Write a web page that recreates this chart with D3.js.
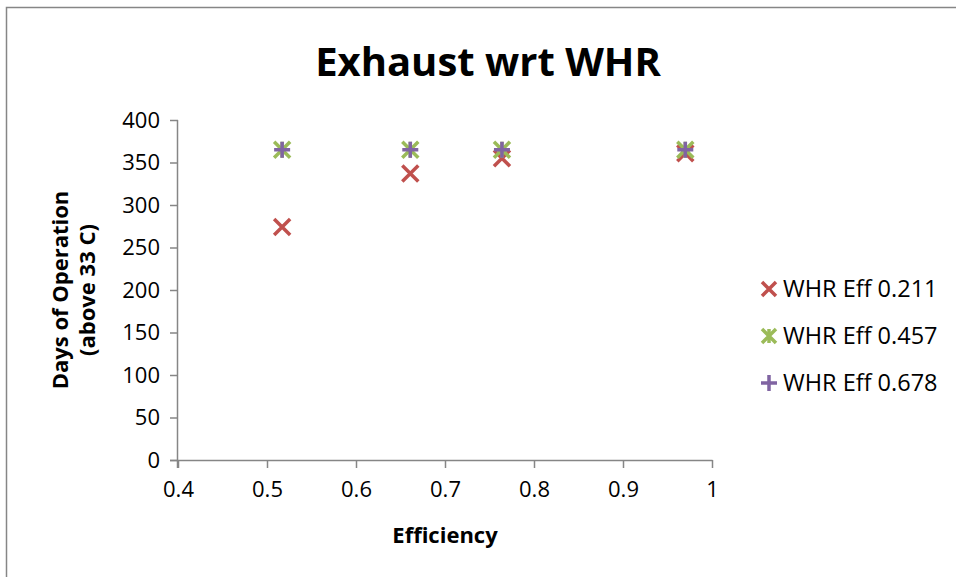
<!DOCTYPE html>
<html>
<head>
<meta charset="utf-8">
<script src="https://d3js.org/d3.v7.min.js"></script>
<style>
  body { margin: 0; background: #fff; }
  text { font-family: "Open Sans", "Liberation Sans", sans-serif; fill: #000; }
</style>
</head>
<body>
<svg id="svg" width="956" height="577"></svg>
<script>
var efficiency = [0.517, 0.661, 0.764, 0.970];
var seriesNames = ["WHR Eff 0.211", "WHR Eff 0.457", "WHR Eff 0.678"];
var whr211 = [274, 337, 355, 361];
var whr457 = [365, 365, 365, 365];
var whr678 = [365, 365, 365, 365];
var xTicks = [0.4, 0.5, 0.6, 0.7, 0.8, 0.9, 1];
var yTicks = [0, 50, 100, 150, 200, 250, 300, 350, 400];

var svg = d3.select("#svg");

// outer chart border
svg.append("rect")
    .attr("x", 6.5).attr("y", 7.5)
    .attr("width", 1000).attr("height", 1000)
    .attr("fill", "none")
    .attr("stroke", "#868686")
    .attr("stroke-width", 1.5);

var x = d3.scaleLinear().domain([0.4, 1]).range([178, 712]);
var y = d3.scaleLinear().domain([0, 400]).range([460, 120]);

var gx = svg.append("g")
    .attr("transform", "translate(0,460)")
    .call(d3.axisBottom(x).tickValues(xTicks).tickSize(8).tickPadding(13)
      .tickFormat(function(d) { return d === 1 ? "1" : d3.format(".1f")(d); }));

var gy = svg.append("g")
    .attr("transform", "translate(178,0)")
    .call(d3.axisLeft(y).tickValues(yTicks).tickSize(8).tickPadding(10));

svg.selectAll(".domain").attr("stroke", "#868686").attr("stroke-width", 1.5);
svg.selectAll(".tick line").attr("stroke", "#868686").attr("stroke-width", 1.5);
svg.selectAll(".tick text")
    .style("font-family", "'Open Sans', sans-serif")
    .style("font-size", "22px")
    .attr("fill", "#000");
gx.select(".domain").attr("d", "M170,0.5H712.5");
gy.select(".domain").attr("d", "M-0.5,120V468");

// markers
var colors = ["#c0504d", "#9bbb59", "#8064a2"];
function cross(g, cx, cy, r, c) {
  g.append("path")
      .attr("d", "M" + (cx - r) + "," + (cy - r) + "L" + (cx + r) + "," + (cy + r) +
                 "M" + (cx - r) + "," + (cy + r) + "L" + (cx + r) + "," + (cy - r))
      .attr("stroke", c).attr("stroke-width", 3.5).attr("fill", "none");
}
function star(g, cx, cy, r, c) {
  cross(g, cx, cy, r, c);
  g.append("path")
      .attr("d", "M" + cx + "," + (cy - r) + "L" + cx + "," + (cy + r))
      .attr("stroke", c).attr("stroke-width", 3.5);
}
function plus(g, cx, cy, r, c) {
  g.append("path")
      .attr("d", "M" + (cx - r - 1) + "," + cy + "L" + (cx + r + 1) + "," + cy +
                 "M" + cx + "," + (cy - r - 1) + "L" + cx + "," + (cy + r + 1))
      .attr("stroke", c).attr("stroke-width", 3.5).attr("fill", "none");
}

var pts = svg.append("g");
efficiency.forEach(function(e, i) { cross(pts, x(e), y(whr211[i]), 8, colors[0]); });
efficiency.forEach(function(e, i) { star(pts, x(e), y(whr457[i]), 8, colors[1]); });
efficiency.forEach(function(e, i) { plus(pts, x(e), y(whr678[i]), 7, colors[2]); });

// title
svg.append("text")
    .attr("x", 488).attr("y", 76)
    .attr("text-anchor", "middle")
    .attr("font-size", 40).attr("font-weight", "bold")
    .text("Exhaust wrt WHR");

// axis titles
svg.append("text")
    .attr("x", 445).attr("y", 543)
    .attr("text-anchor", "middle")
    .attr("font-size", 22).attr("font-weight", "bold")
    .text("Efficiency");

var yl = svg.append("text")
    .attr("transform", "translate(68,290) rotate(-90)")
    .attr("text-anchor", "middle")
    .attr("font-size", 22).attr("font-weight", "bold");
yl.append("tspan").attr("x", 0).attr("y", 0).text("Days of Operation");
yl.append("tspan").attr("x", 0).attr("y", 27).text("(above 33 C)");

// legend
var markers = [cross, star, plus];
var leg = svg.append("g");
seriesNames.forEach(function(n, i) {
  var ly = 289 + i * 47;
  markers[i](leg, 769, ly, 7, colors[i]);
  leg.append("text")
      .attr("x", 783).attr("y", ly + 8)
      .attr("font-size", 23.5)
      .text(n);
});
</script>
</body>
</html>
